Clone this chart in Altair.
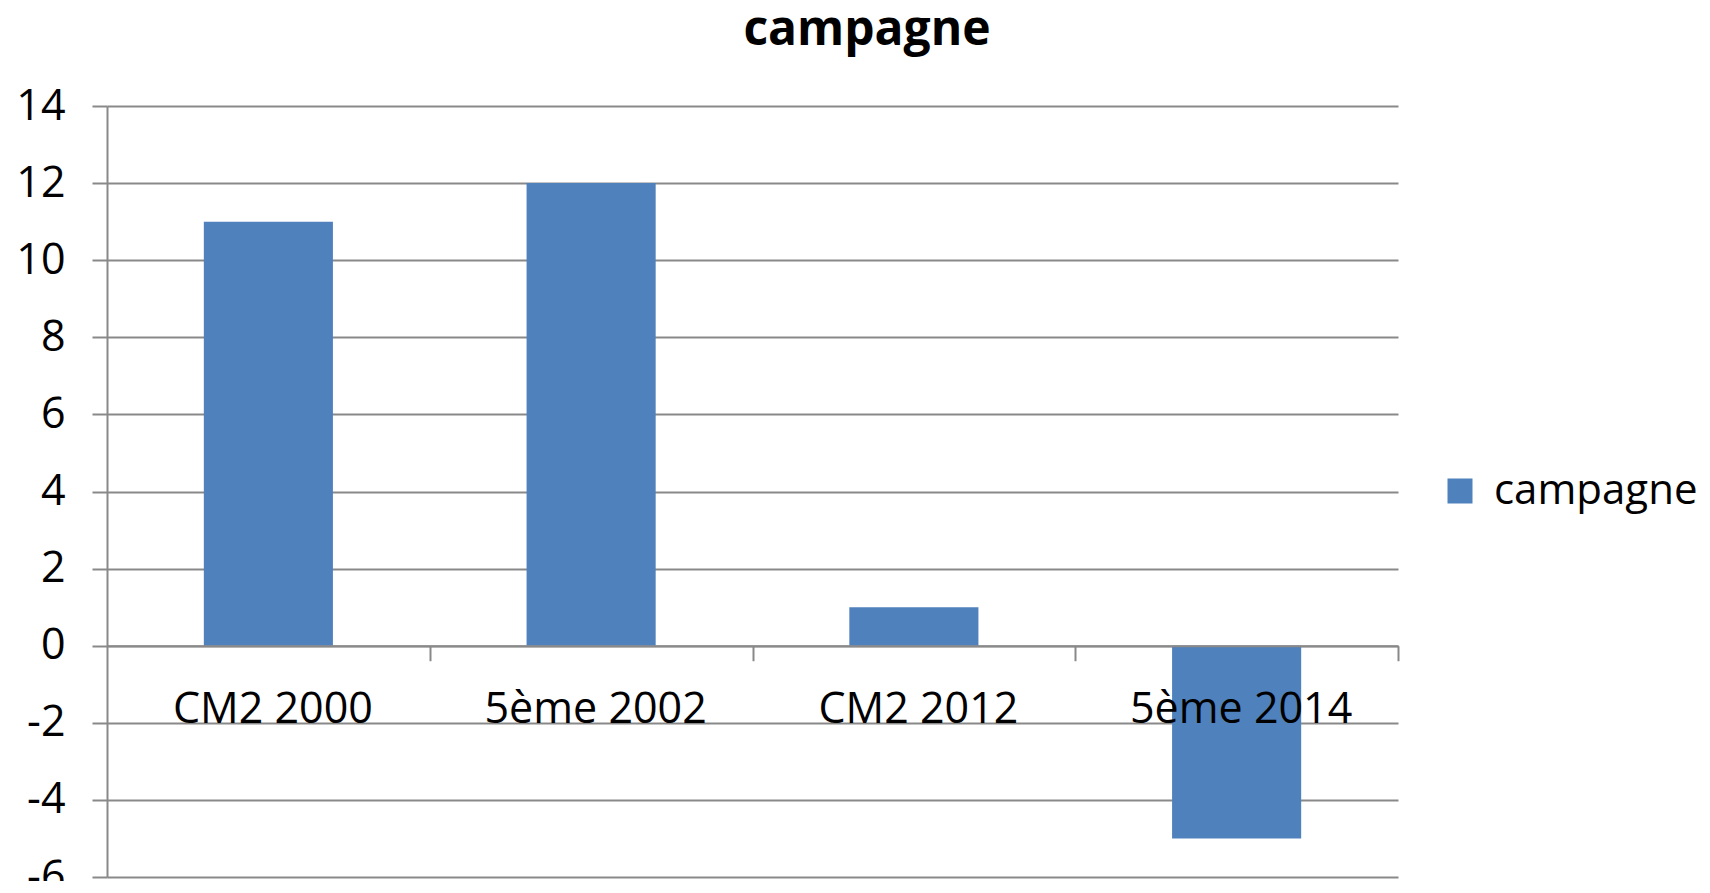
import altair as alt
import pandas as pd

categories = ["CM2 2000", "5ème 2002", "CM2 2012", "5ème 2014"]
values = [11, 12, 1, -5]
series = ["campagne", "campagne", "campagne", "campagne"]
y_ticks = [-6, -4, -2, 0, 2, 4, 6, 8, 10, 12, 14]

df = pd.DataFrame({"cat": categories, "val": values, "series": series})

FONT = "Open Sans"
GRAY = "#898989"
BLUE = "#4F81BD"
STEP = 1291 / 4

chart = alt.Chart(df).mark_bar().encode(
    x=alt.X(
        "cat:N", sort=categories,
        scale=alt.Scale(paddingInner=0.6, paddingOuter=0.3),
        axis=alt.Axis(
            title=None, labelAngle=0, offset=-231.3, grid=False, zindex=1,
            domainColor=GRAY, domainWidth=2,
            tickColor=GRAY, tickWidth=2, tickSize=15,
            tickOffset=STEP / 2, labelOffset=-STEP / 2 + 4,
            labelFont=FONT, labelFontSize=43, labelColor="black", labelLimit=0,
            labelBaseline="alphabetic", labelPadding=62,
        ),
    ),
    y=alt.Y(
        "val:Q",
        scale=alt.Scale(domain=[-6, 14], nice=False, zero=False),
        axis=alt.Axis(
            title=None, values=y_ticks, grid=True, gridColor=GRAY, gridWidth=2,
            domainColor=GRAY, domainWidth=2,
            tickColor=GRAY, tickWidth=2, tickSize=15,
            labelExpr="toString(datum.value)",
            labelFont=FONT, labelFontSize=43, labelColor="black", labelPadding=27,
        ),
    ),
    color=alt.Color(
        "series:N",
        scale=alt.Scale(range=[BLUE]),
        legend=alt.Legend(
            orient="none", legendX=1332, legendY=364, title=None,
            symbolType="square", symbolSize=625, symbolStrokeWidth=0,
            labelFont=FONT, labelFontSize=42, labelOffset=13, labelColor="black",
            labelLimit=0, padding=0,
        ),
    ),
).properties(
    width=1291,
    height=771,
    padding={"left": 99, "top": 98, "right": 300, "bottom": 4},
    autosize=alt.AutoSizeParams(type="none"),
    title=alt.TitleParams(
        "campagne", font=FONT, fontSize=48, fontWeight="bold", color="black",
        anchor="middle", frame="group", dx=114.5, baseline="alphabetic", offset=-8,
    ),
).configure_view(stroke=None)

chart.save("out.html", embed_options={"renderer": "svg", "actions": False})
